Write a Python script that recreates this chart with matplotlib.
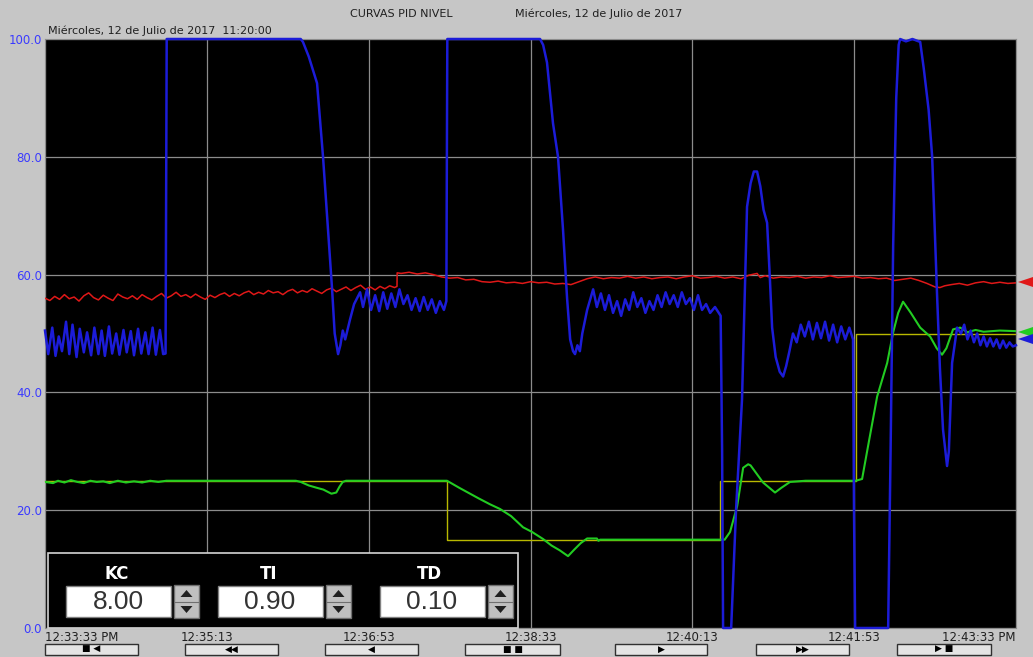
import numpy as np
import matplotlib
matplotlib.use("Agg")
import matplotlib.pyplot as plt
from matplotlib.patches import Rectangle, Polygon

# ---------------- data (time in seconds from 12:33:33 PM) ----------------
tick_times = [0, 100, 200, 300, 400, 500, 600]
tick_labels = ["12:33:33 PM", "12:35:13", "12:36:53", "12:38:33",
               "12:40:13", "12:41:53", "12:43:33 PM"]
y_ticks = [0, 20, 40, 60, 80, 100]

# Controller output (blue)
blue_t = [0, 2, 4.5, 6.5, 8.5, 10.5, 13, 15, 17, 19.5, 21.5, 24, 26, 28.5, 30.5,
          33, 35, 37, 39.5, 41.5, 44, 46, 48.5, 50.5, 53, 55, 57.5, 59.5, 62, 64,
          66.5, 68.5, 71, 73, 74.5, 74.8, 75.2, 158, 159.4, 163, 168.1, 171.8,
          174.9, 177.4, 179, 181.1, 182.5, 184, 185.5, 188.5, 191, 194.7,
          196.5, 199, 201.5, 204, 206.5, 209, 211.5, 214, 216.5, 219, 221.5, 224,
          226.5, 229, 231.5, 234, 236.5, 239, 241.5, 244, 246.5, 248, 248.6,
          305.9, 307.8, 310.2, 313.9, 317, 320.1, 322.6, 324.5, 326.3, 327.5,
          329, 330.5, 332, 335, 338.7,
          341, 343.5, 346, 348.5, 351, 353.5, 356, 358.5, 361, 363.5, 366, 368.5,
          371, 373.5, 376, 378.5, 381, 383.5, 386, 388.5, 391, 393.5, 396, 398.5,
          401, 403.5, 406, 408.5, 411, 414, 417.5, 418.4, 419, 424, 427, 430.7,
          432.5, 433.8, 436, 438, 440, 442, 444, 446.2, 447.8, 449.3, 451.5, 454,
          456.1, 458, 460, 462.2, 464.5, 467, 469.5, 472, 474.5, 477, 479.5, 482,
          484.5, 487, 489.5, 492, 494.5, 497, 499.3, 499.9, 500.6, 521, 522.5,
          524.1, 526, 527.5, 528.4, 532, 536, 540.8, 543, 546, 548.2, 551.3, 553,
          554.9, 557.4, 558.5, 560.5, 563.6, 566, 568, 570, 572, 574, 576, 578,
          580, 582, 584, 586, 588, 590, 592, 594, 596, 598, 600]
blue_v = [50.5, 46.5, 51.0, 46.2, 49.5, 47.0, 52.0, 46.5, 51.5, 46.0, 50.8, 46.8,
          50.2, 46.3, 51.0, 46.5, 50.5, 46.2, 51.2, 46.6, 50.0, 46.4, 50.6, 46.8,
          50.4, 46.3, 50.8, 46.6, 50.2, 46.5, 51.0, 46.4, 50.6, 46.5, 46.6, 70.0,
          100, 100, 99.5, 97.0, 92.5, 80.0, 67.6, 57.5, 50.0, 46.5, 48.0, 50.5,
          49.0, 52.4, 55.0, 57.0,
          54.5, 57.5, 54.0, 56.5, 53.8, 57.0, 54.2, 56.8, 54.5, 57.5, 55.0, 56.5,
          54.0, 56.0, 53.8, 56.2, 54.0, 55.8, 53.5, 55.5, 54.0, 55.5, 100,
          100, 99.0, 96.0, 85.7, 80.0, 67.6, 56.0, 49.0, 47.0, 46.5,
          48.0, 47.0, 50.0, 54.0, 57.5,
          54.5, 56.8, 54.0, 56.5, 53.5, 55.5, 53.0, 55.8, 54.0, 57.0, 54.5, 56.0,
          53.5, 55.5, 54.0, 56.5, 54.5, 57.0, 55.0, 56.5, 54.5, 57.0, 55.0, 56.0,
          54.0, 56.5, 54.0, 55.0, 53.5, 54.5, 53.0, 30.0, 0, 0, 20.0, 38.8,
          58.0, 71.5, 75.5, 77.5, 77.5, 75.0, 71.0, 68.8, 60.0, 51.0, 46.0, 43.5,
          42.7, 44.5, 47.0, 50.0, 48.5, 51.5, 49.5, 52.0, 49.0, 51.8, 49.2, 52.0,
          48.8, 51.5, 48.5, 51.2, 49.0, 51.0, 49.0, 20.0, 0, 0, 30.0,
          65.0, 90.0, 99.0, 100, 99.6, 100, 99.5, 95.0, 88.0, 80.0, 56.0, 44.0,
          33.7, 27.5, 30.0, 45.0, 51.0, 50.0, 51.5, 49.0, 50.5, 48.5, 50.0, 48.0,
          49.5, 47.8, 49.2, 47.8, 49.0, 47.5, 48.8, 47.6, 48.5, 47.8, 48.0]

# Level (red)
red_t_a = list(range(0, 217, 3))
red_v_a = [56.0, 55.6, 56.3, 55.8, 56.6, 55.9, 56.2, 55.5, 56.4, 56.9,
           56.1, 55.7, 56.5, 56.0, 55.6, 56.7, 56.2, 55.9, 56.4, 55.8,
           56.6, 56.1, 55.7, 56.3, 56.8, 56.0, 56.4, 57.0, 56.3, 56.6,
           56.1, 56.7, 56.2, 55.8, 56.5, 56.1, 56.6, 56.9, 56.3, 56.8,
           56.4, 56.9, 57.2, 56.6, 57.0, 56.7, 57.3, 56.9, 57.1, 56.6,
           57.2, 57.5, 56.9, 57.3, 57.0, 57.6, 57.2, 56.8, 57.4, 57.7,
           57.1, 57.5, 57.9, 57.3, 57.8, 58.2, 57.5, 57.9, 57.4, 58.0,
           57.6, 58.1, 57.8]
red_t_b = [217.5, 217.6, 220, 225, 230, 235, 240, 245, 250, 255, 260, 265, 270,
           275, 280, 285, 290, 295, 300, 305, 310, 315, 320, 325, 330, 335, 340,
           345, 350, 355, 360, 365, 370, 375, 380, 385, 390, 395, 400, 405, 410,
           415, 420, 425, 430, 435, 440, 442, 445, 450, 455, 460, 465, 470, 475,
           480, 485, 490, 495, 500, 505, 510, 515, 520, 525, 530, 535, 540, 545,
           550, 553, 556, 560, 565, 570, 575, 580, 585, 590, 595, 600]
red_v_b = [58.0, 60.3, 60.2, 60.4, 60.1, 60.3, 60.0, 59.6, 59.4, 59.5, 59.1, 59.2,
           58.8, 58.7, 58.9, 58.6, 58.7, 58.5, 58.8, 58.6, 58.7, 58.4, 58.5, 58.3,
           58.8, 59.3, 59.6, 59.3, 59.5, 59.4, 59.7, 59.4, 59.6, 59.3, 59.5, 59.6,
           59.3, 59.6, 59.8, 59.4, 59.5, 59.7, 59.4, 59.6, 59.3, 59.9, 60.2, 59.5,
           59.8, 59.4, 59.6, 59.5, 59.7, 59.4, 59.6, 59.5, 59.8, 59.5, 59.6, 59.7,
           59.4, 59.5, 59.3, 59.4, 59.0, 59.2, 59.4, 59.0, 58.5, 57.9, 57.8, 58.1,
           58.3, 58.5, 58.2, 58.6, 58.8, 58.5, 58.7, 58.5, 58.6]

# Flow (green)
green_t = [0, 5, 8, 12, 16, 20, 24, 28, 32, 36, 40, 45, 50, 55, 60, 65, 70, 75,
           100, 155, 158, 163, 168, 172, 177, 180, 182, 184, 186, 248.4, 250.3,
           256, 262, 268, 275, 281.2, 288, 295.4, 301, 307.8, 313, 318, 323.2,
           327, 331, 335, 341, 342, 343, 417.5, 420, 423.3, 427.7, 431.4, 434.5,
           436, 443.7, 451.1, 455, 460.4, 470, 501, 504.9, 508, 514.2, 520.4,
           524.1, 527.2, 530.2, 535, 540.8, 546.9, 551, 554.3, 557, 561.1, 565.5,
           570, 575, 580, 590, 600]
green_v = [24.8, 24.6, 25.0, 24.7, 25.1, 24.8, 24.6, 25.0, 24.8, 24.9, 24.6,
           25.0, 24.7, 24.9, 24.7, 25.0, 24.8, 25.0, 25.0, 25.0, 24.8, 24.2, 23.8,
           23.5, 22.8, 23.0, 24.0, 24.8, 25.0, 25.0, 24.7, 23.8, 22.9, 22.0, 21.0,
           20.2, 19.0, 17.1, 16.3, 15.1, 14.0, 13.2, 12.2, 13.3, 14.4, 15.2, 15.2,
           14.8, 15.0, 15.0, 15.0, 16.3, 20.7, 27.2, 27.8, 27.6, 24.7, 23.0, 23.8,
           24.8, 25.0, 25.0, 25.3, 30.0, 39.3, 45.0, 50.2, 53.5, 55.4, 53.5, 51.0,
           49.5, 47.5, 46.4, 47.5, 50.7, 51.0, 50.2, 50.6, 50.3, 50.5, 50.4]

# Setpoint (yellow), step changes
sp_t = [0, 248.4, 417.2, 501.4, 600]
sp_v = [25, 15, 25, 50, 50]

# PID parameters
pid_names = ["KC", "TI", "TD"]
pid_values = [8.00, 0.90, 0.10]

# ---------------- figure ----------------
W, H = 1033, 657
BG = "#c6c6c6"
fig = plt.figure(figsize=(W / 100, H / 100), dpi=100, facecolor=BG)


def fx(x):
    return x / W


def fy(y):
    return 1 - y / H


L, R, T, B = 45, 1016, 39, 628
ax = fig.add_axes([fx(L), fy(B), (R - L) / W, (B - T) / H])
ax.set_facecolor("black")
ax.set_xlim(0, 600)
ax.set_ylim(0, 100)

ax.set_xticks(tick_times)
ax.set_xticklabels(tick_labels)
ax.set_yticks(y_ticks)
ax.set_yticklabels([f"{v:.1f}" for v in y_ticks])
ax.tick_params(axis="both", length=0)
ax.tick_params(axis="y", labelcolor="#3a3aff", labelsize=8.5, pad=2)
ax.tick_params(axis="x", labelcolor="#202020", labelsize=8.5, pad=2)
xl = ax.get_xticklabels()
xl[0].set_horizontalalignment("left")
xl[-1].set_horizontalalignment("right")
ax.grid(True, color="#8c8c8c", linewidth=0.9)
ax.set_axisbelow(True)
for s in ax.spines.values():
    s.set_color("#8c8c8c")
    s.set_linewidth(0.8)

ax.step(sp_t, sp_v, where="post", color="#b8b800", linewidth=1.0,
        zorder=2, clip_on=False)
ax.plot(green_t, green_v, color="#22cc22", linewidth=1.5, zorder=3)
ax.plot(red_t_a + red_t_b, red_v_a + red_v_b, color="#e01818",
        linewidth=1.1, zorder=4)
ax.plot(blue_t, blue_v, color="#1c1cd8", linewidth=1.8, zorder=5,
        clip_on=False)

# ---------------- header texts ----------------
fig.text(fx(350), fy(14), "CURVAS PID NIVEL", fontsize=8, color="#202020",
         va="center", ha="left")
fig.text(fx(515), fy(14), "Miércoles, 12 de Julio de 2017", fontsize=8,
         color="#202020", va="center", ha="left")
fig.text(fx(48), fy(31), "Miércoles, 12 de Julio de 2017  11:20:00",
         fontsize=8, color="#202020", va="center", ha="left")

# ---------------- end-of-trace markers ----------------
for yc, col in [(282, "#e01818"), (332, "#22cc22"), (339, "#1c1cd8")]:
    fig.patches.append(Polygon(
        [(fx(1018), fy(yc)), (fx(1033), fy(yc - 5)), (fx(1033), fy(yc + 5))],
        closed=True, transform=fig.transFigure, facecolor=col,
        edgecolor="none", zorder=6))

# ---------------- PID parameter panel ----------------
fig.patches.append(Rectangle((fx(48), fy(628)), (518 - 48) / W, (628 - 553) / H,
                             transform=fig.transFigure, facecolor="black",
                             edgecolor="#d4d4d4", linewidth=1.2, zorder=6))
box_x = [66, 218, 380]
label_x = [117, 269, 429]
for name, val, bx, lx in zip(pid_names, pid_values, box_x, label_x):
    fig.text(fx(lx), fy(574), name, fontsize=12, fontweight="bold",
             color="white", ha="center", va="center", zorder=7)
    fig.patches.append(Rectangle((fx(bx), fy(617)), 105 / W, 31 / H,
                                 transform=fig.transFigure, facecolor="white",
                                 edgecolor="#808080", linewidth=1.0, zorder=7))
    fig.text(fx(bx + 52), fy(602), f"{val:.2f}", fontsize=19,
             family="Liberation Sans", color="#333333", ha="center",
             va="center", zorder=8)
    sx = bx + 108
    fig.patches.append(Rectangle((fx(sx), fy(618)), 25 / W, 33 / H,
                                 transform=fig.transFigure, facecolor="#c0c0c0",
                                 edgecolor="#707070", linewidth=1.0, zorder=7))
    fig.lines.append(plt.Line2D([fx(sx + 1), fx(sx + 24)], [fy(601.5), fy(601.5)],
                                transform=fig.transFigure, color="#707070",
                                linewidth=0.8, zorder=8))
    cx = sx + 12.5
    fig.patches.append(Polygon([(fx(cx - 6), fy(597)), (fx(cx + 6), fy(597)),
                                (fx(cx), fy(590))], closed=True,
                               transform=fig.transFigure, facecolor="#202020",
                               edgecolor="none", zorder=8))
    fig.patches.append(Polygon([(fx(cx - 6), fy(606)), (fx(cx + 6), fy(606)),
                                (fx(cx), fy(613))], closed=True,
                               transform=fig.transFigure, facecolor="#202020",
                               edgecolor="none", zorder=8))

# ---------------- navigation buttons ----------------
buttons = [(45, 138, "■ ◀"), (185, 278, "◀◀"), (325, 418, "◀"),
           (465, 560, "■ ■"), (615, 707, "▶"), (756, 849, "▶▶"),
           (897, 991, "▶ ■")]
for x0, x1, glyph in buttons:
    fig.patches.append(Rectangle((fx(x0), fy(655)), (x1 - x0) / W, 11 / H,
                                 transform=fig.transFigure, facecolor="#e4e4e4",
                                 edgecolor="#303030", linewidth=1.0, zorder=6))
    fig.text(fx((x0 + x1) / 2), fy(649.5), glyph, fontsize=6.5, color="black",
             ha="center", va="center", zorder=7)

fig.savefig("out.png", dpi=100, facecolor=BG)
